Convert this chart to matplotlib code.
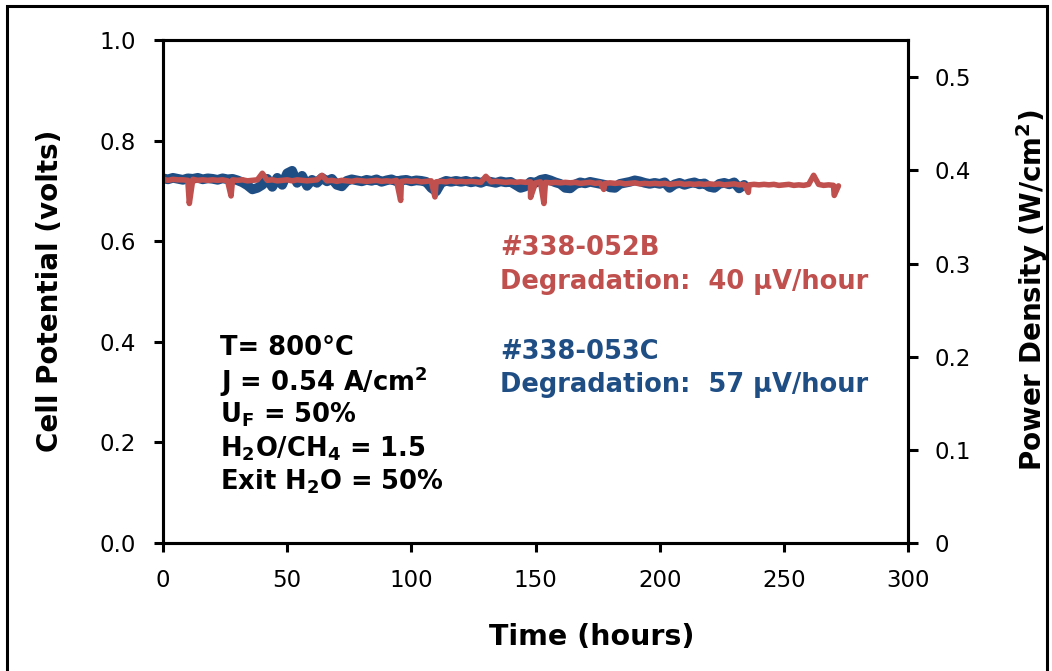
import numpy as np
import matplotlib
matplotlib.use("Agg")
import matplotlib.pyplot as plt
from matplotlib.patches import Rectangle

plt.rcParams['font.family'] = ['DejaVu Sans']
plt.rcParams['mathtext.fontset'] = 'dejavusans'

# ---------------- data ----------------
# Blue cell #338-053C, sampled every 2 hours (0..234 h)
blue_hours = np.arange(0, 236, 2)
blue_volts = [
    0.725, 0.723, 0.726, 0.724, 0.722, 0.725, 0.724, 0.726, 0.723, 0.725,
    0.724, 0.722, 0.725, 0.723, 0.724, 0.721, 0.717, 0.711, 0.703, 0.706,
    0.712, 0.724, 0.708, 0.726, 0.712, 0.735, 0.740, 0.716, 0.730, 0.710,
    0.722, 0.716, 0.726, 0.719, 0.724, 0.712, 0.709, 0.720, 0.723, 0.721,
    0.719, 0.722, 0.720, 0.723, 0.718, 0.721, 0.723, 0.719, 0.721, 0.722,
    0.719, 0.721, 0.720, 0.718, 0.706, 0.699, 0.716, 0.720, 0.718, 0.720,
    0.718, 0.720, 0.717, 0.719, 0.716, 0.720, 0.718, 0.716, 0.719, 0.717,
    0.718, 0.712, 0.706, 0.709, 0.718, 0.716, 0.722, 0.724, 0.721, 0.717,
    0.714, 0.706, 0.705, 0.713, 0.717, 0.715, 0.718, 0.716, 0.714, 0.712,
    0.707, 0.706, 0.714, 0.716, 0.718, 0.721, 0.719, 0.716, 0.714, 0.716,
    0.714, 0.717, 0.706, 0.713, 0.716, 0.712, 0.715, 0.717, 0.713, 0.715,
    0.708, 0.706, 0.714, 0.716, 0.713, 0.717, 0.705, 0.712,
]

# Red cell #338-052B, sampled every 2 hours (0..272 h)
red_hours_base = np.arange(0, 274, 2)
red_volts_base = [
    0.723, 0.721, 0.723, 0.722, 0.722, 0.721, 0.723, 0.721, 0.722, 0.721,
    0.722, 0.721, 0.722, 0.720, 0.722, 0.721, 0.722, 0.720, 0.721, 0.722,
    0.735, 0.721, 0.722, 0.720, 0.721, 0.722, 0.720, 0.722, 0.721, 0.720,
    0.721, 0.722, 0.731, 0.720, 0.721, 0.719, 0.721, 0.720, 0.719, 0.721,
    0.720, 0.719, 0.720, 0.721, 0.719, 0.720, 0.719, 0.721, 0.719, 0.720,
    0.719, 0.720, 0.718, 0.719, 0.720, 0.718, 0.719, 0.718, 0.720, 0.718,
    0.719, 0.718, 0.719, 0.718, 0.717, 0.729, 0.718, 0.719, 0.718, 0.717,
    0.718, 0.717, 0.718, 0.717, 0.718, 0.716, 0.718, 0.717, 0.716, 0.717,
    0.716, 0.717, 0.716, 0.717, 0.715, 0.716, 0.717, 0.715, 0.716, 0.715,
    0.716, 0.715, 0.716, 0.714, 0.715, 0.716, 0.714, 0.715, 0.714, 0.715,
    0.714, 0.715, 0.713, 0.714, 0.715, 0.713, 0.714, 0.713, 0.714, 0.713,
    0.714, 0.713, 0.714, 0.712, 0.713, 0.714, 0.712, 0.713, 0.712, 0.713,
    0.712, 0.713, 0.712, 0.713, 0.711, 0.712, 0.713, 0.711, 0.712, 0.711,
    0.713, 0.731, 0.713, 0.711, 0.712, 0.711, 0.710,
]
# short downward excursions of the red cell
red_spike_hours = [10.6, 27.4, 95.7, 109.5, 148.0, 153.4, 177.5, 235.7, 270.3]
red_spike_volts = [0.675, 0.690, 0.681, 0.688, 0.687, 0.675, 0.703, 0.697, 0.691]

x_ticks = [0, 50, 100, 150, 200, 250, 300]
y_ticks = [0.0, 0.2, 0.4, 0.6, 0.8, 1.0]
y2_ticks = [0, 0.1, 0.2, 0.3, 0.4, 0.5]
current_density = 0.54  # A/cm2 -> power density axis scale

RED = '#C0504D'
BLUE = '#1F4E85'

# merge red base + spikes in time order
red_t = np.concatenate([red_hours_base, red_spike_hours])
red_v = np.concatenate([red_volts_base, red_spike_volts])
order = np.argsort(red_t, kind='stable')
red_t, red_v = red_t[order], red_v[order]

# ---------------- figure ----------------
W, H = 1052, 671
fig = plt.figure(figsize=(W / 100, H / 100), dpi=100)
ax = fig.add_axes([163 / W, 1 - 543 / H, (908 - 163) / W, (543 - 40) / H])

ax.plot(blue_hours, blue_volts, color=BLUE, lw=7.0, solid_joinstyle='round',
        solid_capstyle='round')
ax.plot(red_t, red_v, color=RED, lw=4.0, solid_joinstyle='round',
        solid_capstyle='round')

ax.set_xlim(0, 300)
ax.set_ylim(0, 1.0)
ax.set_xticks(x_ticks)
ax.set_yticks(y_ticks)
ax.set_yticklabels([f'{v:.1f}' for v in y_ticks])

ax2 = ax.twinx()
ax2.set_ylim(0, 1.0 * current_density)
ax2.set_yticks(y2_ticks)
ax2.set_yticklabels(['0'] + [f'{v:.1f}' for v in y2_ticks[1:]])

for a in (ax, ax2):
    for s in a.spines.values():
        s.set_linewidth(2.2)
        s.set_color('black')
ax.tick_params(axis='both', direction='out', length=6.5, width=2.2,
               labelsize=16.5, colors='black')
ax.tick_params(axis='x', pad=12)
ax.tick_params(axis='y', pad=13)
ax2.tick_params(axis='y', direction='out', length=7, width=2.2,
                labelsize=16.5, pad=12)

# axis titles
fig.text(592 / W, 1 - 637 / H, 'Time (hours)', fontsize=20.5, fontweight='bold',
         ha='center', va='center')
fig.text(50 / W, 1 - 291 / H, 'Cell Potential (volts)', fontsize=20,
         fontweight='bold', rotation=90, ha='center', va='center')
fig.text(1032 / W, 1 - 290 / H, 'Power Density (W/cm$^\\mathbf{2}$)', fontsize=20,
         fontweight='bold', rotation=90, ha='center', va='center')

# conditions block
cond_lines = [
    'T= 800°C',
    'J = 0.54 A/cm$^\\mathbf{2}$',
    'U$_\\mathbf{F}$ = 50%',
    'H$_\\mathbf{2}$O/CH$_\\mathbf{4}$ = 1.5',
    'Exit H$_\\mathbf{2}$O = 50%',
]
for i, line in enumerate(cond_lines):
    fig.text(220 / W, 1 - (348 + 33.5 * i) / H, line, fontsize=18.5,
             fontweight='bold', ha='left', va='center')

fig.text(500 / W, 1 - 248 / H, '#338-052B', fontsize=18.5, fontweight='bold',
         color=RED, ha='left', va='center')
fig.text(500 / W, 1 - 282 / H, 'Degradation:  40 µV/hour', fontsize=18.5,
         fontweight='bold', color=RED, ha='left', va='center')
fig.text(500 / W, 1 - 352 / H, '#338-053C', fontsize=18.5, fontweight='bold',
         color=BLUE, ha='left', va='center')
fig.text(500 / W, 1 - 385 / H, 'Degradation:  57 µV/hour', fontsize=18.5,
         fontweight='bold', color=BLUE, ha='left', va='center')

# outer frame
fig.patches.append(Rectangle((6.5 / W, -0.02), (1046.5 - 6.5) / W,
                             1 - 6.5 / H + 0.02, transform=fig.transFigure,
                             fill=False, lw=2.2, edgecolor='black'))

fig.savefig('out.png', dpi=100)
